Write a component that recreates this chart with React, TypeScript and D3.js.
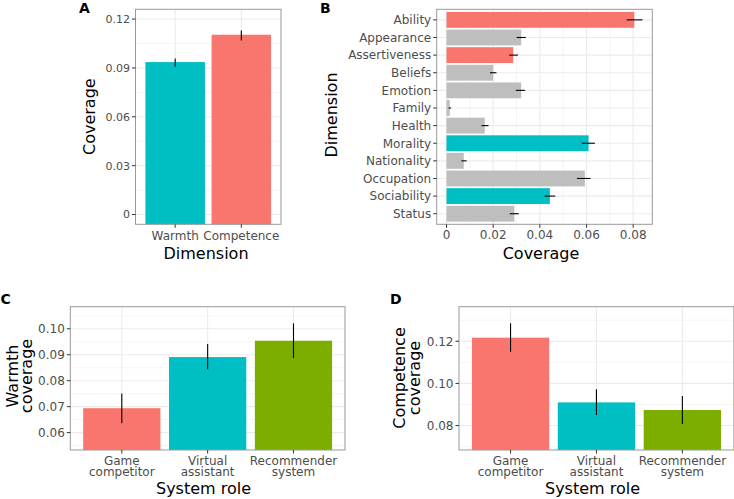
import React from "react";
import * as d3 from "d3";

// panel A: overall coverage
const dimensions = ["Warmth", "Competence"];
const dimCoverage = [0.0936, 0.1104];
const dimLower = [0.0907, 0.1069];
const dimUpper = [0.0958, 0.113];

// panel B: coverage per dimension
const subDims = ["Ability", "Appearance", "Assertiveness", "Beliefs", "Emotion", "Family",
  "Health", "Morality", "Nationality", "Occupation", "Sociability", "Status"];
const subCoverage = [0.0805, 0.032, 0.0286, 0.02, 0.032, 0.0014, 0.0164, 0.0609, 0.0074, 0.0593, 0.0443, 0.0291];
const subLower = [0.0772, 0.03, 0.0269, 0.0186, 0.0297, 0.0009, 0.015, 0.058, 0.0064, 0.0559, 0.042, 0.0271];
const subUpper = [0.084, 0.034, 0.0306, 0.0214, 0.0337, 0.0019, 0.018, 0.0636, 0.0086, 0.0617, 0.0466, 0.031];
const subGroup = ["Competence", "Other", "Competence", "Other", "Other", "Other",
  "Other", "Warmth", "Other", "Other", "Warmth", "Other"];

// panels C and D: by system role
const roles = ["Game\ncompetitor", "Virtual\nassistant", "Recommender\nsystem"];
const warmthByRole = [0.0694, 0.0891, 0.0954];
const warmthLower = [0.0636, 0.0844, 0.0887];
const warmthUpper = [0.0751, 0.0941, 0.1021];
const compByRole = [0.1217, 0.091, 0.0874];
const compLower = [0.115, 0.085, 0.0807];
const compUpper = [0.1285, 0.0972, 0.094];

const RED = "#F8766D";
const TEAL = "#00BFC4";
const GREEN = "#7CAE00";
const GREY = "#BEBEBE";
const groupColor: any = { Competence: RED, Warmth: TEAL, Other: GREY };

const FONT = "DejaVu Sans, Verdana, sans-serif";
const tickCol = "#4D4D4D";
const gridCol = "#EBEBEB";
const borderCol = "#999999";

type VProps = {
  left: number; right: number; top: number; bottom: number;
  cats: string[]; values: number[]; lower: number[]; upper: number[]; colors: string[];
  domain: [number, number]; ticks: number[]; tickLabels: string[]; minor: number[];
  tickSize: number; xLabelY: number; xTitle: string; xTitleX: number; xTitleY: number;
  yTitle: string[]; yTitleX: number[]; yTitleY: number;
  tag: string; tagX: number; tagY: number;
};

function VBarPanel(p: VProps) {
  const x = d3.scalePoint<string>().domain(p.cats).range([p.left, p.right]).padding(0.6);
  const y = d3.scaleLinear().domain(p.domain).range([p.bottom, p.top]);
  const bw = x.step() * 0.9;
  return (
    <g>
      <rect x={p.left} y={p.top} width={p.right - p.left} height={p.bottom - p.top} fill="white" />
      {p.minor.map((t) => (
        <line key={"mn" + t} x1={p.left} x2={p.right} y1={y(t)} y2={y(t)} stroke={gridCol} strokeWidth={0.55} />
      ))}
      {p.ticks.map((t) => (
        <line key={"mj" + t} x1={p.left} x2={p.right} y1={y(t)} y2={y(t)} stroke={gridCol} strokeWidth={1.1} />
      ))}
      {p.cats.map((c) => (
        <line key={"vx" + c} x1={x(c)} x2={x(c)} y1={p.top} y2={p.bottom} stroke={gridCol} strokeWidth={1.1} />
      ))}
      {p.cats.map((c, i) => (
        <rect key={"b" + c} x={(x(c) as number) - bw / 2} y={y(p.values[i])}
          width={bw} height={p.bottom - y(p.values[i])} fill={p.colors[i]} />
      ))}
      {p.cats.map((c, i) => (
        <line key={"e" + c} x1={x(c)} x2={x(c)} y1={y(p.upper[i])} y2={y(p.lower[i])} stroke="black" strokeWidth={1.1} />
      ))}
      <rect x={p.left} y={p.top} width={p.right - p.left} height={p.bottom - p.top} fill="none" stroke={borderCol} strokeWidth={1} />
      {p.ticks.map((t, i) => (
        <g key={"yt" + t}>
          <line x1={p.left - 3.5} x2={p.left} y1={y(t)} y2={y(t)} stroke="#333333" strokeWidth={1} />
          <text x={p.left - 5.5} y={y(t)} dy="0.36em" textAnchor="end" fontSize={p.tickSize} fill={tickCol}>{p.tickLabels[i]}</text>
        </g>
      ))}
      {p.cats.map((c) => (
        <g key={"xt" + c}>
          <line x1={x(c)} x2={x(c)} y1={p.bottom} y2={p.bottom + 3.5} stroke="#333333" strokeWidth={1} />
          <text x={x(c)} y={p.xLabelY} textAnchor="middle" fontSize={12} fill={tickCol}>
            {c.split("\n").map((ln, j) => (
              <tspan key={j} x={x(c)} dy={j === 0 ? 0 : 10.6}>{ln}</tspan>
            ))}
          </text>
        </g>
      ))}
      <text x={p.xTitleX} y={p.xTitleY} textAnchor="middle" fontSize={16} fill="black">{p.xTitle}</text>
      <text transform={`translate(${p.yTitleX[0]},${p.yTitleY}) rotate(-90)`} textAnchor="middle" fontSize={16} fill="black">
        {p.yTitle.map((ln, j) => (
          <tspan key={j} x={0} dy={j === 0 ? 0 : p.yTitleX[j] - p.yTitleX[j - 1]}>{ln}</tspan>
        ))}
      </text>
      <text x={p.tagX} y={p.tagY} fontSize={14} fontWeight="bold" fill="black">{p.tag}</text>
    </g>
  );
}

function HBarPanel() {
  const left = 436.7, right = 652.3, top = 9.3, bottom = 224.3;
  const x = d3.scaleLinear().domain([-0.0042, 0.0882]).range([left, right]);
  const y = d3.scalePoint<string>().domain(subDims).range([top, bottom]).padding(0.6);
  const bh = y.step() * 0.9;
  const ticks = [0, 0.02, 0.04, 0.06, 0.08];
  const tickLabels = ["0", "0.02", "0.04", "0.06", "0.08"];
  const minor = [0.01, 0.03, 0.05, 0.07];
  return (
    <g>
      <rect x={left} y={top} width={right - left} height={bottom - top} fill="white" />
      {minor.map((t) => (
        <line key={"mn" + t} x1={x(t)} x2={x(t)} y1={top} y2={bottom} stroke={gridCol} strokeWidth={0.55} />
      ))}
      {ticks.map((t) => (
        <line key={"mj" + t} x1={x(t)} x2={x(t)} y1={top} y2={bottom} stroke={gridCol} strokeWidth={1.1} />
      ))}
      {subDims.map((c) => (
        <line key={"hy" + c} x1={left} x2={right} y1={y(c)} y2={y(c)} stroke={gridCol} strokeWidth={1.1} />
      ))}
      {subDims.map((c, i) => (
        <rect key={"b" + c} x={x(0)} y={(y(c) as number) - bh / 2} width={x(subCoverage[i]) - x(0)} height={bh}
          fill={groupColor[subGroup[i]]} />
      ))}
      {subDims.map((c, i) => (
        <line key={"e" + c} x1={x(subLower[i])} x2={x(subUpper[i])} y1={y(c)} y2={y(c)} stroke="black" strokeWidth={1.1} />
      ))}
      <rect x={left} y={top} width={right - left} height={bottom - top} fill="none" stroke={borderCol} strokeWidth={1} />
      {subDims.map((c) => (
        <g key={"yt" + c}>
          <line x1={left - 3.5} x2={left} y1={y(c)} y2={y(c)} stroke="#333333" strokeWidth={1} />
          <text x={left - 5.5} y={y(c)} dy="0.36em" textAnchor="end" fontSize={12} fill={tickCol}>{c}</text>
        </g>
      ))}
      {ticks.map((t, i) => (
        <g key={"xt" + t}>
          <line x1={x(t)} x2={x(t)} y1={bottom} y2={bottom + 3.5} stroke="#333333" strokeWidth={1} />
          <text x={x(t)} y={239} textAnchor="middle" fontSize={12} fill={tickCol}>{tickLabels[i]}</text>
        </g>
      ))}
      <text x={541} y={258.5} textAnchor="middle" fontSize={16} fill="black">Coverage</text>
      <text transform={`translate(337,115) rotate(-90)`} textAnchor="middle" fontSize={16} fill="black">Dimension</text>
      <text x={320} y={13.3} fontSize={14} fontWeight="bold" fill="black">B</text>
    </g>
  );
}

export default function App() {
  return (
    <div style={{ position: "fixed", left: 0, top: 0 }}>
      <svg width={734} height={499} fontFamily={FONT} style={{ display: "block", background: "white" }}>
        <VBarPanel left={135.5} right={281} top={9.3} bottom={224.3}
          cats={dimensions} values={dimCoverage} lower={dimLower} upper={dimUpper} colors={[TEAL, RED]}
          domain={[-0.006, 0.126]} ticks={[0, 0.03, 0.06, 0.09, 0.12]} tickLabels={["0", "0.03", "0.06", "0.09", "0.12"]}
          minor={[0.015, 0.045, 0.075, 0.105]} tickSize={11}
          xLabelY={240} xTitle="Dimension" xTitleX={206} xTitleY={258.5}
          yTitle={["Coverage"]} yTitleX={[95]} yTitleY={116.7}
          tag="A" tagX={79} tagY={13.3} />
        <HBarPanel />
        <VBarPanel left={70.3} right={345} top={306.7} bottom={450}
          cats={roles} values={warmthByRole} lower={warmthLower} upper={warmthUpper} colors={[RED, TEAL, GREEN]}
          domain={[0.0533, 0.1085]} ticks={[0.06, 0.07, 0.08, 0.09, 0.1]} tickLabels={["0.06", "0.07", "0.08", "0.09", "0.10"]}
          minor={[0.055, 0.065, 0.075, 0.085, 0.095, 0.105]} tickSize={12}
          xLabelY={465} xTitle="System role" xTitleX={203.5} xTitleY={493.5}
          yTitle={["Warmth", "coverage"]} yTitleX={[17.5, 32]} yTitleY={376}
          tag="C" tagX={0.5} tagY={304} />
        <VBarPanel left={459} right={733.9} top={306.7} bottom={450}
          cats={roles} values={compByRole} lower={compLower} upper={compUpper} colors={[RED, TEAL, GREEN]}
          domain={[0.0684, 0.1364]} ticks={[0.08, 0.1, 0.12]} tickLabels={["0.08", "0.10", "0.12"]}
          minor={[0.07, 0.09, 0.11, 0.13]} tickSize={12}
          xLabelY={465} xTitle="System role" xTitleX={592.5} xTitleY={493.5}
          yTitle={["Competence", "coverage"]} yTitleX={[404.5, 419.5]} yTitleY={378}
          tag="D" tagX={390} tagY={304} />
      </svg>
    </div>
  );
}
